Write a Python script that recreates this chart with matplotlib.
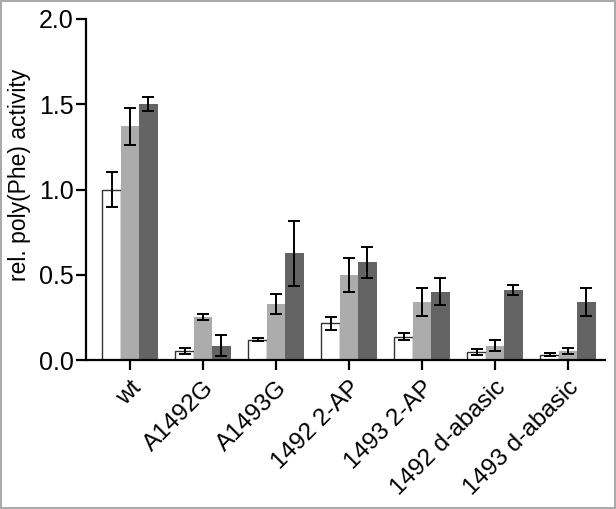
import matplotlib
matplotlib.use("Agg")
import matplotlib.pyplot as plt
import numpy as np
from matplotlib.patches import Rectangle

categories = ["wt", "A1492G", "A1493G", "1492 2-AP", "1493 2-AP", "1492 d-abasic", "1493 d-abasic"]
white_vals = [1.00, 0.055, 0.12, 0.215, 0.137, 0.047, 0.032]
white_err = [0.10, 0.018, 0.01, 0.038, 0.02, 0.02, 0.007]
light_vals = [1.37, 0.252, 0.33, 0.50, 0.34, 0.085, 0.055]
light_err = [0.11, 0.02, 0.06, 0.10, 0.08, 0.03, 0.018]
dark_vals = [1.50, 0.085, 0.625, 0.573, 0.40, 0.41, 0.34]
dark_err = [0.04, 0.06, 0.19, 0.09, 0.08, 0.03, 0.08]
yticks = [0.0, 0.5, 1.0, 1.5, 2.0]

plt.rcParams['font.family'] = ['Liberation Sans', 'DejaVu Sans']

fig = plt.figure(figsize=(6.16, 5.09), dpi=100)
ax = fig.add_axes([0.1396, 0.2927, 0.9822 - 0.1396, 0.9627 - 0.2927])

x = np.arange(len(categories))
w = 0.253
ekw = dict(ecolor='black', elinewidth=1.4, capsize=4.5, capthick=1.4)
ax.bar(x - w, white_vals, w, color='white', edgecolor='#333333', linewidth=1.0,
       yerr=white_err, error_kw=ekw, zorder=2)
ax.bar(x, light_vals, w, color='#acacac', edgecolor='none',
       yerr=light_err, error_kw=ekw, zorder=2)
ax.bar(x + w, dark_vals, w, color='#646464', edgecolor='none',
       yerr=dark_err, error_kw=ekw, zorder=2)

ax.set_xlim(-0.603, 6.507)
ax.set_ylim(0, 2.0)
ax.set_yticks(yticks)
ax.set_yticklabels([f"{v:.1f}" for v in yticks], fontsize=18)
ax.set_xticks(x)
ax.set_xticklabels(categories, rotation=45, ha='right', va='top',
                   rotation_mode='anchor', fontsize=17.5)
ax.set_ylabel("rel. poly(Phe) activity", fontsize=16.5)
ax.yaxis.set_label_coords(-0.106, 0.543)

for s in ['top', 'right']:
    ax.spines[s].set_visible(False)
for s in ['left', 'bottom']:
    ax.spines[s].set_linewidth(1.6)
ax.tick_params(axis='both', width=1.6, length=7, direction='out', pad=2)
ax.tick_params(axis='x', pad=5)

fig.patches.append(Rectangle((0.001, 0.001), 0.997, 0.997, transform=fig.transFigure,
                             fill=False, edgecolor='#999999', linewidth=1.2))

fig.savefig("out.png", dpi=100)
